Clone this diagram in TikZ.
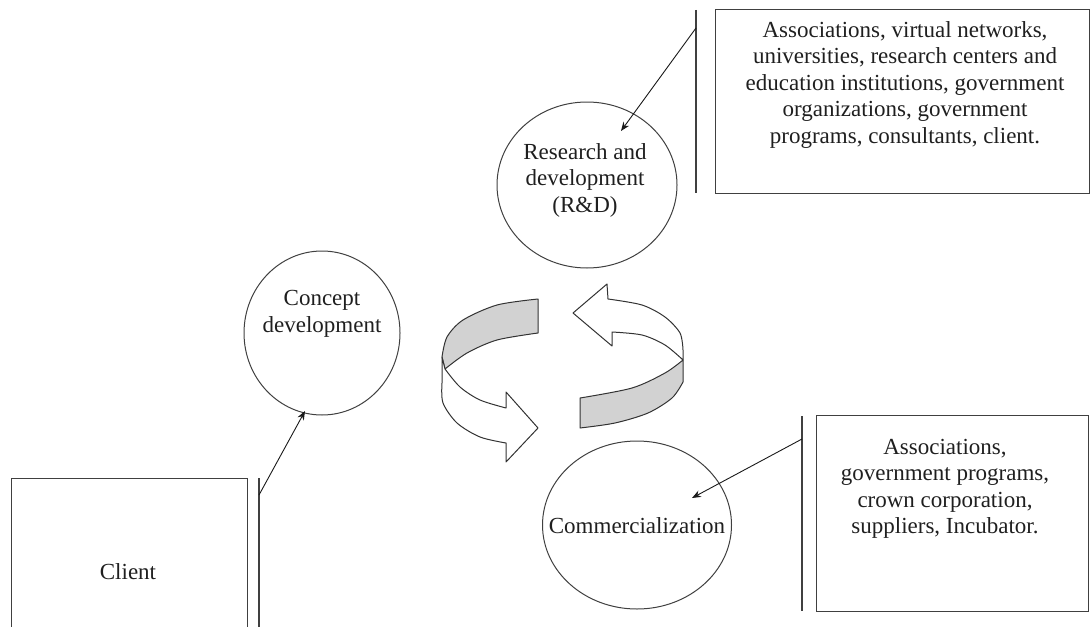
\documentclass[tikz,border=0pt]{standalone}
\usepackage{fontspec}
\setmainfont{Liberation Serif}
\usetikzlibrary{shapes.geometric,arrows.meta}
\begin{document}
\begin{tikzpicture}[x=1pt,y=-1pt,
  line/.style={draw=black!75,line width=1.1pt},
  boxshape/.style={rectangle,draw=black!75,line width=1.1pt,inner sep=0pt,anchor=north west},
  oval/.style={ellipse,draw=black!75,line width=1pt,inner sep=0pt},
  txt/.style={align=center,text=black!88,font=\fontsize{23}{26.5}\selectfont,inner sep=0pt},
  conn/.style={draw=black!90,line width=0.9pt,-{Stealth[length=9pt,width=7pt]}},
  band/.style={draw=black!80,line width=1pt,fill=gray!35,line join=round},
  whiteband/.style={draw=black!80,line width=1pt,fill=white,line join=round}]
\useasboundingbox (0,0) rectangle (1091,626);

% boxes
\node[boxshape,minimum width=374pt,minimum height=184pt] (topbox) at (715,9) {};
\node[boxshape,minimum width=272pt,minimum height=196pt] (botbox) at (816,415) {};
\node[boxshape,minimum width=236pt,minimum height=170pt] (clientbox) at (11,478) {};

% bracket lines
\coordinate (tl1) at (696,10);  \coordinate (tl2) at (696,193);
\coordinate (bl1) at (802,416); \coordinate (bl2) at (802,611);
\coordinate (cl1) at (259,478); \coordinate (cl2) at (259,630);
\draw[line] (tl1) -- (tl2);
\draw[line] (bl1) -- (bl2);
\draw[line] (cl1) -- (cl2);

% ellipses
\node[oval,minimum width=180pt,minimum height=166pt] (rd) at (587,185) {};
\node[oval,minimum width=156pt,minimum height=164pt] (concept) at (322,333) {};
\node[oval,minimum width=189pt,minimum height=168pt] (comm) at (637,525) {};

% texts
\node[txt] (rdtxt) at (585,180) {Research and\\development\\(R\&D)};
\node[txt] (concepttxt) at (322,314) {Concept\\development};
\node[txt] (commtxt) at (637,526) {Commercialization};
\node[txt] (clienttxt) at (128,572) {Client};
\node[txt] (toptxt) at (905,85) {Associations, virtual networks,\\universities, research centers and\\education institutions, government\\organizations, government\\programs, consultants, client.};
\node[txt] (bottxt) at (945,489) {Associations,\\government programs,\\crown corporation,\\suppliers, Incubator.};

% connectors
\coordinate (a1s) at (696,28);  \coordinate (a1e) at (621,131);
\coordinate (a2s) at (259,495); \coordinate (a2e) at (305,411);
\coordinate (a3s) at (802,439); \coordinate (a3e) at (692,498);
\draw[conn] (a1s) -- (a1e);
\draw[conn] (a2s) -- (a2e);
\draw[conn] (a3s) -- (a3e);

% central circular arrows
% left arrow: gray back band
\path[band] (538,299) -- (538,333)
  -- plot[smooth] coordinates {(538,333) (497,340) (467,353) (445,369)}
  -- (442,357)
  -- plot[smooth] coordinates {(442,357) (447,337) (463,320) (497,305) (538,299)}
  -- cycle;
% left arrow: white front with head
\path[whiteband] (445,369)
  -- plot[smooth] coordinates {(445,369) (460,387) (480,400) (506,408)}
  -- (506,392) -- (538,428) -- (506,462) -- (506,443)
  -- plot[smooth] coordinates {(506,443) (480,437) (457,423) (443,403) (442,383)}
  -- (442,357) -- cycle;
% right arrow: white back with head
\path[whiteband] (608,299)
  -- plot[smooth] coordinates {(608,299) (642,305) (665,317) (680,333) (683,350)}
  -- (683,360)
  -- plot[smooth] coordinates {(683,360) (665,345) (642,335) (612,332)}
  -- (612,346) -- (573,313) -- (607,284) -- cycle;
% right arrow: gray front band
\path[band] (683,360)
  -- plot[smooth] coordinates {(683,360) (665,373) (632,388) (580,398)}
  -- (580,428)
  -- plot[smooth] coordinates {(580,428) (615,423) (648,413) (672,398) (683,382)}
  -- cycle;
\end{tikzpicture}
\end{document}
